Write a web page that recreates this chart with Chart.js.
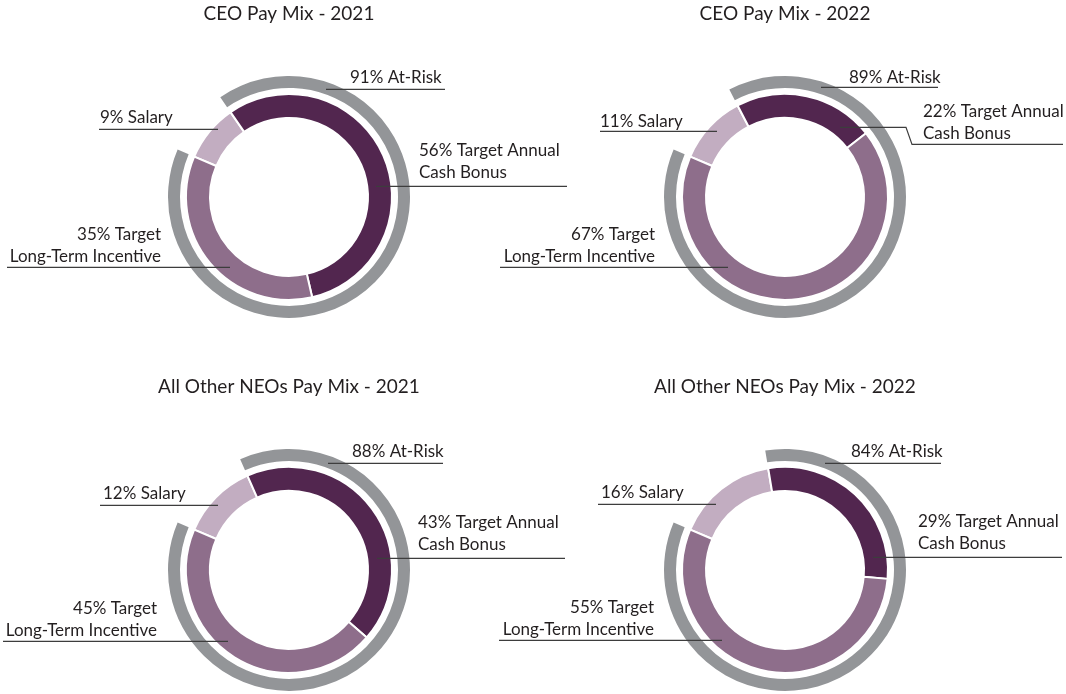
<!DOCTYPE html>
<html>
<head>
<meta charset="utf-8">
<script src="https://cdn.jsdelivr.net/npm/chart.js@4"></script>
<style>
    html, body { margin: 0; padding: 0; background: #fff; overflow: hidden; }
    #page { position: relative; width: 1066px; height: 694px; overflow: hidden; }
    .box { position: absolute; width: 580px; height: 330px; }
</style>
</head>
<body>
<div id="page">
    <div class="box" style="left:-1px; top:0px;"><canvas id="mix0"></canvas></div>
    <div class="box" style="left:495px; top:0px;"><canvas id="mix1"></canvas></div>
    <div class="box" style="left:-1px; top:373px;"><canvas id="mix2"></canvas></div>
    <div class="box" style="left:495px; top:373px;"><canvas id="mix3"></canvas></div>
</div>
<script>
        // Data
        const chartTitles = ['CEO Pay Mix - 2021', 'CEO Pay Mix - 2022', 'All Other NEOs Pay Mix - 2021', 'All Other NEOs Pay Mix - 2022'];
        const categories = ['Salary', 'Target Annual Cash Bonus', 'Target Long-Term Incentive'];
        const salary = [9, 11, 12, 16];
        const bonus = [56, 22, 43, 29];
        const lti = [35, 67, 45, 55];
        const atRisk = [91, 89, 88, 84];

        const FONT = 'Lato, "Open Sans", sans-serif';
        const colors = { salary: '#c2adc1', bonus: '#52264f', lti: '#8e6e8b', risk: '#939598' };

        // Label layout, offsets from the ring centre (text anchor, baseline of last line, leader line points)
        const labelLayout = [
            {
                risk:   { x: 61,   y: -114, align: 'left',  line: [[37, -108], [156, -108]] },
                salary: { x: -189, y: -74,  align: 'left',  line: [[-190, -68], [-71, -68]] },
                bonus:  { x: 130,  y: -19,  align: 'left',  line: [[87, -11], [278, -11]] },
                lti:    { x: -128, y: 65,   align: 'right', line: [[-282, 70], [-59, 70]] }
            },
            {
                risk:   { x: 64,   y: -114, align: 'left',  line: [[36, -110], [153, -110]] },
                salary: { x: -185, y: -70,  align: 'left',  line: [[-185, -66], [-68, -66]] },
                bonus:  { x: 138,  y: -58,  align: 'left',  line: [[55, -70], [121, -70], [127, -53], [278, -53]] },
                lti:    { x: -130, y: 65,   align: 'right', line: [[-285, 70], [-57, 70]] }
            },
            {
                risk:   { x: 63,   y: -113, align: 'left',  line: [[39, -107], [154, -107]] },
                salary: { x: -186, y: -71,  align: 'left',  line: [[-189, -65], [-71, -65]] },
                bonus:  { x: 129,  y: -20,  align: 'left',  line: [[88, -12], [276, -12]] },
                lti:    { x: -132, y: 66,   align: 'right', line: [[-286, 71], [-61, 71]] }
            },
            {
                risk:   { x: 66,   y: -113, align: 'left',  line: [[40, -107], [156, -107]] },
                salary: { x: -184, y: -72,  align: 'left',  line: [[-187, -66], [-69, -66]] },
                bonus:  { x: 133,  y: -21,  align: 'left',  line: [[88, -13], [277, -13]] },
                lti:    { x: -131, y: 65,   align: 'right', line: [[-286, 70], [-63, 70]] }
            }
        ];

        // Draws the callout texts and leader lines
        const payLabels = {
            id: 'payLabels',
            afterDatasetsDraw(chart, args, opts) {
                const { ctx } = chart;
                const arc = chart.getDatasetMeta(2).data[0];
                const cx = arc.x, cy = arc.y;
                ctx.save();
                ctx.font = '17px ' + FONT;
                ctx.fillStyle = '#231f20';
                ctx.strokeStyle = '#3d3d3d';
                ctx.lineWidth = 1.2;
                opts.items.forEach(item => {
                    ctx.beginPath();
                    item.line.forEach(([x, y], k) => {
                        if (k === 0) ctx.moveTo(cx + x, cy + y + 0.5);
                        else ctx.lineTo(cx + x, cy + y + 0.5);
                    });
                    ctx.stroke();
                    ctx.textAlign = item.align;
                    ctx.textBaseline = 'alphabetic';
                    const n = item.text.length;
                    item.text.forEach((t, k) => {
                        ctx.fillText(t, cx + item.x, cy + item.y - (n - 1 - k) * 22);
                    });
                });
                ctx.restore();
            }
        };

        chartTitles.forEach((title, i) => {
            const lay = labelLayout[i];
            const items = [
                Object.assign({ text: [atRisk[i] + '% At-Risk'] }, lay.risk),
                Object.assign({ text: [salary[i] + '% Salary'] }, lay.salary),
                Object.assign({ text: [bonus[i] + '% Target Annual', 'Cash Bonus'] }, lay.bonus),
                Object.assign({ text: [lti[i] + '% Target', 'Long-Term Incentive'] }, lay.lti)
            ];

            new Chart(document.getElementById('mix' + i), {
                type: 'doughnut',
                data: {
                    labels: categories,
                    datasets: [
                        {
                            label: 'At-Risk',
                            data: [100 - atRisk[i], atRisk[i]],
                            backgroundColor: ['rgba(0,0,0,0)', colors.risk],
                            borderWidth: 0,
                            weight: 12
                        },
                        {
                            label: 'gap',
                            data: [1],
                            backgroundColor: 'rgba(0,0,0,0)',
                            borderWidth: 0,
                            weight: 6
                        },
                        {
                            label: 'Pay Mix',
                            data: [salary[i], bonus[i], lti[i]],
                            backgroundColor: [colors.salary, colors.bonus, colors.lti],
                            borderColor: '#ffffff',
                            borderWidth: 2,
                            weight: 24
                        }
                    ]
                },
                options: {
                    responsive: true,
                    maintainAspectRatio: false,
                    animation: false,
                    events: [],
                    radius: 121,
                    cutout: (79 / 121 * 100) + '%',
                    rotation: -67,
                    layout: { padding: { top: 0, bottom: 11, left: 0, right: 0 } },
                    plugins: {
                        legend: { display: false },
                        tooltip: { enabled: false },
                        title: {
                            display: true,
                            text: title,
                            color: '#231f20',
                            font: { family: FONT, size: 19, weight: 'normal' },
                            padding: { top: 2, bottom: 50 }
                        },
                        payLabels: { items: items }
                    }
                },
                plugins: [payLabels]
            });
        });
</script>
</body>
</html>
